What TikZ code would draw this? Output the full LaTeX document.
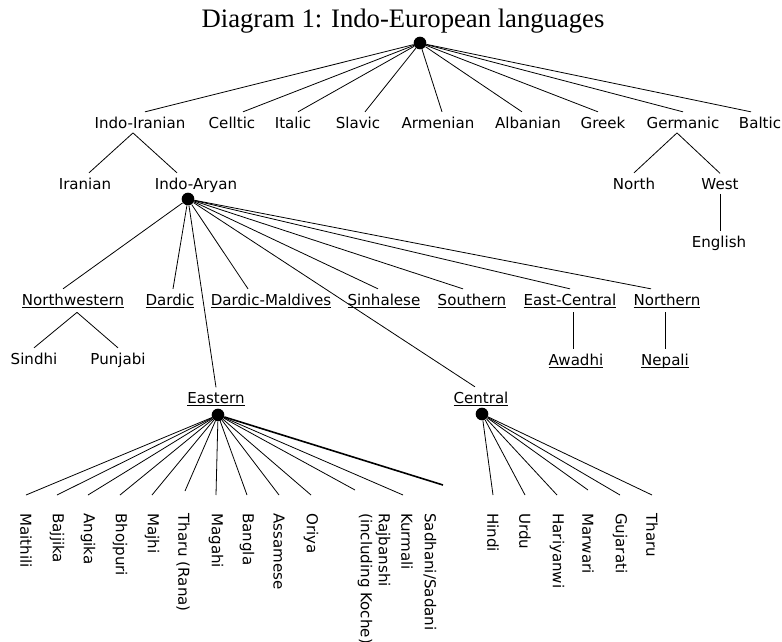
\documentclass[tikz,border=0pt]{standalone}
\usepackage{fontspec}
\setmainfont{DejaVu Sans}
\newfontfamily\titlefont{Liberation Serif}
\newcommand\grp[1]{\underline{\smash{#1}}\vphantom{#1}}

\begin{document}
\begin{tikzpicture}[x=0.75pt, y=-0.75pt,
    title/.style={font=\titlefont\fontsize{20}{24}\selectfont, anchor=base},
    lang/.style={font=\fontsize{11.3}{13.5}\selectfont, anchor=base},
    leaf/.style={font=\fontsize{11.3}{13.5}\selectfont, rotate=-90, anchor=west, inner xsep=13.5pt, align=left},
    dot/.style={circle, fill, inner sep=0pt, minimum size=9.5pt},
    edge/.style={line width=0.6pt}
]
    \useasboundingbox (0,0) rectangle (782,642);

    % Titel
    \node[title] (title) at (403,28) {Diagram 1: Indo-European languages};

    % Familles
    \node[dot] (root) at (420,43) {};
    \node[lang] (indoiranian) at (140,128) {Indo-Iranian};
    \node[lang] (celtic) at (232,128) {Celltic};
    \node[lang] (italic) at (293,128) {Italic};
    \node[lang] (slavic) at (358,128) {Slavic};
    \node[lang] (armenian) at (438,128) {Armenian};
    \node[lang] (albanian) at (528,128) {Albanian};
    \node[lang] (greek) at (603,128) {Greek};
    \node[lang] (germanic) at (683,128) {Germanic};
    \node[lang] (baltic) at (760,128) {Baltic};

    \draw[edge] (root) -- ([shift={(5,0)}]indoiranian.north);
    \draw[edge] (root) -- ([shift={(11,0)}]celtic.north);
    \draw[edge] (root) -- ([shift={(5,0)}]italic.north);
    \draw[edge] (root) -- ([shift={(7,0)}]slavic.north);
    \draw[edge] (root) -- ([shift={(4,0)}]armenian.north);
    \draw[edge] (root) -- ([shift={(-6,0)}]albanian.north);
    \draw[edge] (root) -- ([shift={(-5,0)}]greek.north);
    \draw[edge] (root) -- (germanic.north);
    \draw[edge] (root) -- ([shift={(-9,0)}]baltic.north);

    % Sous-branches
    \node[lang] (iranian) at (85,189) {Iranian};
    \node[lang] (indoaryan) at (196,189) {Indo-Aryan};
    \node[lang] (north) at (634,189) {North};
    \node[lang] (west) at (720,189) {West};
    \node[lang] (english) at (719,247) {English};

    \draw[edge] ([shift={(-7,0)}]indoiranian.south) -- ([shift={(4,0)}]iranian.north);
    \draw[edge] ([shift={(-7,0)}]indoiranian.south) -- ([shift={(-19,0)}]indoaryan.north);
    \draw[edge] ([shift={(-6,0)}]germanic.south) -- (north.north);
    \draw[edge] ([shift={(-6,0)}]germanic.south) -- (west.north);
    \draw[edge] (west.south) -- (west.south |- english.north);

    % Indo-Aryan
    \node[dot] (iadot) at (188,199) {};
    \node[lang] (northwestern) at (73,305) {\grp{Northwestern}};
    \node[lang] (dardic) at (170,305) {\grp{Dardic}};
    \node[lang] (dardicmaldives) at (271,305) {\grp{Dardic-Maldives}};
    \node[lang] (sinhalese) at (384,305) {\grp{Sinhalese}};
    \node[lang] (southern) at (472,305) {\grp{Southern}};
    \node[lang] (eastcentral) at (570,305) {\grp{East-Central}};
    \node[lang] (northern) at (667,305) {\grp{Northern}};
    \node[lang] (eastern) at (216,403) {\grp{Eastern}};
    \node[lang] (central) at (481,403) {\grp{Central}};

    \draw[edge] (iadot) -- ([shift={(-10,0)}]northwestern.north);
    \draw[edge] (iadot) -- ([shift={(3,0)}]dardic.north);
    \draw[edge] (iadot) -- ([shift={(-23,0)}]dardicmaldives.north);
    \draw[edge] (iadot) -- ([shift={(-6,0)}]sinhalese.north);
    \draw[edge] (iadot) -- ([shift={(-9,0)}]southern.north);
    \draw[edge] (iadot) -- (eastcentral.north);
    \draw[edge] (iadot) -- ([shift={(-16,0)}]northern.north);
    \draw[edge] (iadot) -- (eastern.north);
    \draw[edge] (iadot) -- ([shift={(-6,0)}]central.north);

    \node[lang] (sindhi) at (34,364) {Sindhi};
    \node[lang] (punjabi) at (118,364) {Punjabi};
    \node[lang] (awadhi) at (576,365) {\grp{Awadhi}};
    \node[lang] (nepali) at (665,365) {\grp{Nepali}};

    \draw[edge] ([shift={(4,0)}]northwestern.south) -- (sindhi.north);
    \draw[edge] ([shift={(4,0)}]northwestern.south) -- (punjabi.north);
    \draw[edge] ([shift={(3,0)}]eastcentral.south) -- ([shift={(3,0)}]eastcentral.south |- awadhi.north);
    \draw[edge] ([shift={(-2,0)}]northern.south) -- ([shift={(-2,0)}]northern.south |- nepali.north);

    % Eastern
    \node[dot] (edot) at (218,415) {};
    \node[leaf] (maithili) at (26,495) {Maithili};
    \node[leaf] (bajjika) at (57,495) {Bajjika};
    \node[leaf] (angika) at (88,495) {Angika};
    \node[leaf] (bhojpuri) at (120,495) {Bhojpuri};
    \node[leaf] (majhi) at (152,495) {Majhi};
    \node[leaf] (tharurana) at (183,495) {Tharu (Rana)};
    \node[leaf] (magahi) at (216,495) {Magahi};
    \node[leaf] (bangla) at (247,495) {Bangla};
    \node[leaf] (assamese) at (279,495) {Assamese};
    \node[leaf] (oriya) at (311,495) {Oriya};
    \node[leaf] (rajbanshi) at (374,495) {Rajbanshi\\(including Koche)};
    \node[leaf] (kurmali) at (407,495) {Kurmali};
    \node[leaf] (sadhani) at (430,495) {Sadhani/Sadani};

    \draw[edge] (edot) -- (maithili.west);
    \draw[edge] (edot) -- (bajjika.west);
    \draw[edge] (edot) -- (angika.west);
    \draw[edge] (edot) -- (bhojpuri.west);
    \draw[edge] (edot) -- (majhi.west);
    \draw[edge] (edot) -- ([shift={(2,-4)}]tharurana.west);
    \draw[edge] (edot) -- (magahi.west);
    \draw[edge] (edot) -- (bangla.west);
    \draw[edge] (edot) -- (assamese.west);
    \draw[edge] (edot) -- (oriya.west);
    \draw[edge] (edot) -- ([shift={(-19,-5)}]rajbanshi.west);
    \draw[edge] (edot) -- ([shift={(-4,0)}]kurmali.west);
    \draw[edge, line width=1.2pt] (edot) -- ([shift={(13,-10)}]sadhani.west);

    % Central
    \node[dot] (cdot) at (482,414) {};
    \node[leaf] (hindi) at (493,495) {Hindi};
    \node[leaf] (urdu) at (525,495) {Urdu};
    \node[leaf] (hariyanwi) at (557,495) {Hariyanwi};
    \node[leaf] (marwari) at (588,495) {Marwari};
    \node[leaf] (gujarati) at (620,495) {Gujarati};
    \node[leaf] (tharu) at (652,495) {Tharu};

    \draw[edge] (cdot) -- (hindi.west);
    \draw[edge] (cdot) -- (urdu.west);
    \draw[edge] (cdot) -- (hariyanwi.west);
    \draw[edge] (cdot) -- ([shift={(0,-5)}]marwari.west);
    \draw[edge] (cdot) -- (gujarati.west);
    \draw[edge] (cdot) -- (tharu.west);

\end{tikzpicture}
\end{document}
